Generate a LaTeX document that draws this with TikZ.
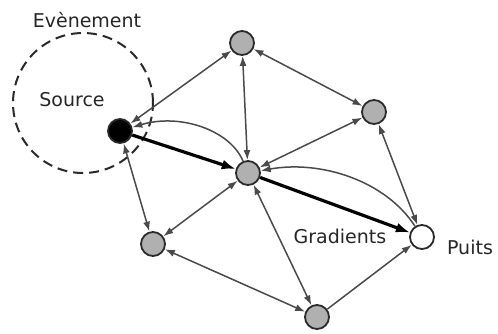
\documentclass[tikz,border=0pt]{standalone}
\usepackage{fontspec}
\setmainfont{DejaVu Sans}
\usetikzlibrary{arrows.meta}
\definecolor{edgegray}{HTML}{4A4A4A}
\definecolor{nodefill}{HTML}{B0B0B0}
\definecolor{rim}{HTML}{2A2A2A}
\tikzset{
  vert/.style={circle, draw=rim, line width=1.8pt, fill=nodefill, minimum size=24pt, inner sep=0pt},
  edge/.style={draw=edgegray, line width=1.5pt, -{Latex[length=10pt,width=7pt]}},
  bedge/.style={draw=edgegray, line width=1.5pt, {Latex[length=10pt,width=7pt]}-{Latex[length=10pt,width=7pt]}},
  grad/.style={draw=black, line width=3.2pt, -{Latex[length=14pt,width=10pt]}},
  lbl/.style={font=\fontsize{19}{22}\selectfont, text=black!85, inner sep=0pt}
}
\begin{document}
\begin{tikzpicture}[x=1pt,y=-1pt]
\useasboundingbox (0,0) rectangle (498,333);
\draw[rim, line width=2pt, dash pattern=on 10pt off 6pt] (83,103) circle[radius=70pt];
\node[vert, fill=black] (S) at (120,131) {};
\node[vert] (T) at (242,43) {};
\node[vert] (R) at (374,112) {};
\node[vert] (C) at (248,173) {};
\node[vert] (L) at (153,244) {};
\node[vert] (B) at (317,317) {};
\node[vert, fill=white] (P) at (422,237) {};
\node[lbl] (ev) at (87,20) {Evènement};
\node[lbl] (so) at (72,100) {Source};
\node[lbl] (gr) at (340,236) {Gradients};
\node[lbl] (pu) at (470,247) {Puits};
\draw[bedge] (S) -- (T);
\draw[bedge] (S) -- (L);
\draw[bedge] (T) -- (C);
\draw[bedge] (T) -- (R);
\draw[bedge] (R) -- (C);
\draw[bedge] (R) -- (P);
\draw[bedge] (C) -- (L);
\draw[bedge] (C) -- (B);
\draw[bedge] (L) -- (B);
\draw[edge] (B) -- (P);
\draw[edge] (C) .. controls (230,130) and (180,113) .. (S);
\draw[edge] (P) .. controls (385,180) and (320,160) .. (C);
\draw[grad] (S) -- (C);
\draw[grad] (C) -- (P);
\end{tikzpicture}
\end{document}
